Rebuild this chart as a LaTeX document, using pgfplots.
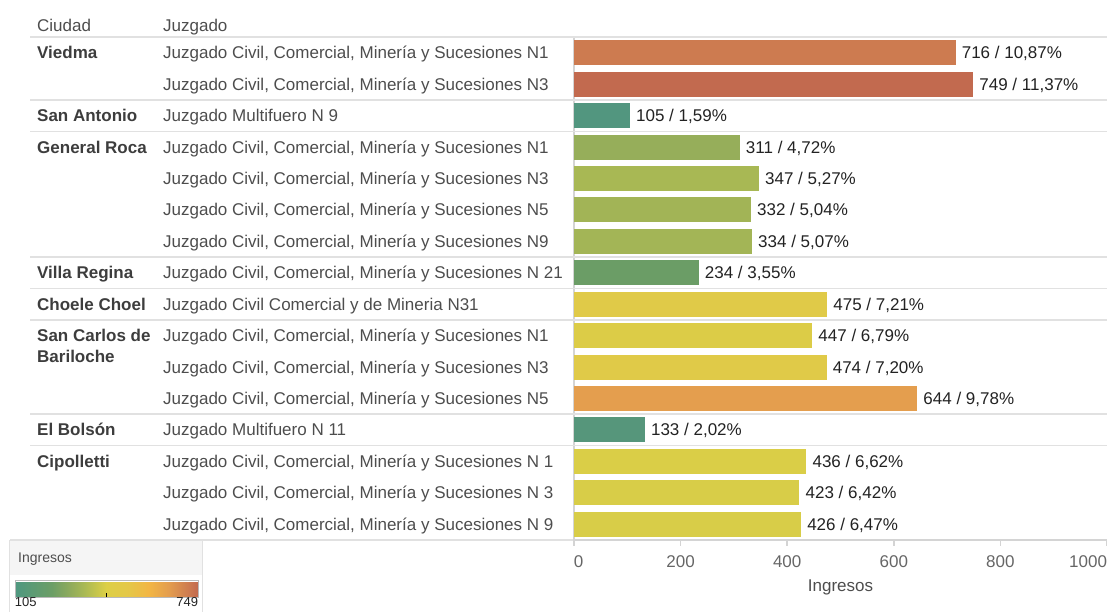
\documentclass[border=0pt]{standalone}
\usepackage{fontspec}
\setmainfont{Liberation Sans}
\usepackage{pgfplots}
\pgfplotsset{compat=1.18}

\definecolor{labcol}{HTML}{4D4D4D}
\definecolor{citycol}{HTML}{3D3D3D}
\definecolor{valcol}{HTML}{222222}
\definecolor{tickcol}{HTML}{666666}
\definecolor{axcol}{HTML}{D4D4D4}
\definecolor{sepcol}{HTML}{E1E1E1}
\definecolor{legbg}{HTML}{F5F5F5}
% bar colours
\definecolor{b716}{HTML}{CD7B50}
\definecolor{b749}{HTML}{C26A4F}
\definecolor{b105}{HTML}{52967F}
\definecolor{b311}{HTML}{96AE5A}
\definecolor{b347}{HTML}{A8B854}
\definecolor{b332}{HTML}{A2B456}
\definecolor{b334}{HTML}{A3B556}
\definecolor{b234}{HTML}{6B9D66}
\definecolor{b475}{HTML}{E0CA48}
\definecolor{b447}{HTML}{DCCC47}
\definecolor{b474}{HTML}{E0CA48}
\definecolor{b644}{HTML}{E49E4E}
\definecolor{b133}{HTML}{56967B}
\definecolor{b436}{HTML}{DACE47}
\definecolor{b423}{HTML}{D8CD48}
\definecolor{b426}{HTML}{D8CD48}

\tikzset{
  txtnode/.style={anchor=west, inner sep=0pt, text height=12pt, text depth=0pt},
  citynode/.style={txtnode, font=\bfseries, text=citycol},
}

% row (0 = bottom), value, colour, label
\newcommand{\jbar}[4]{%
  \addplot[fill=#3, draw=none, bar shift=0pt, nodes near coords={#4}] coordinates {(#2,#1)};}
\newcommand{\city}[2]{\node[citynode] at ([xshift=-537pt]axis cs:0,#1) {#2};}
\newcommand{\sep}[1]{\draw[sepcol, line width=1.5pt] ([xshift=-544pt]axis cs:0,#1) -- (axis cs:1000,#1);}

\begin{document}
\fontsize{17pt}{20pt}\selectfont
\begin{tikzpicture}
% colour legend box
\fill[legbg] (-564pt,-1pt) rectangle (-371pt,-35pt);
\draw[sepcol, line width=1pt] (-564pt,-1pt) rectangle (-371pt,-80pt);
\node[anchor=west, inner sep=0pt, text height=10pt, text depth=0pt, text=labcol,
  font=\fontsize{14pt}{16pt}\selectfont] at (-556pt,-18pt) {Ingresos};
\draw[sepcol, line width=1.5pt] (-564pt,0pt) -- (0pt,0pt);

\begin{axis}[
  at={(0pt,0pt)}, anchor=south west,
  scale only axis, width=533pt, height=503pt,
  xbar, bar width=25pt,
  xmin=0, xmax=1000, ymin=-0.5, ymax=15.5,
  clip=false,
  axis x line*=bottom, axis y line*=left,
  axis line style={draw=axcol, line width=1.5pt},
  tick align=outside, major tick length=6pt,
  xtick={0,200,...,1000},
  xticklabels={\makebox[0pt][l]{0},200,400,600,800,\makebox[0pt][r]{1000}},
  xtick style={draw=axcol, line width=1.5pt},
  xticklabel style={text=tickcol, yshift=-4pt},
  xlabel={Ingresos},
  xlabel style={at={(axis description cs:0.5,0)}, anchor=base, yshift=-52pt, text=labcol},
  ytick={0,...,15},
  ytick style={draw=none},
  yticklabels={
    {Juzgado Civil, Comercial, Minería y Sucesiones N 9},
    {Juzgado Civil, Comercial, Minería y Sucesiones N 3},
    {Juzgado Civil, Comercial, Minería y Sucesiones N 1},
    {Juzgado Multifuero N 11},
    {Juzgado Civil, Comercial, Minería y Sucesiones N5},
    {Juzgado Civil, Comercial, Minería y Sucesiones N3},
    {Juzgado Civil, Comercial, Minería y Sucesiones N1},
    {Juzgado Civil Comercial y de Mineria N31},
    {Juzgado Civil, Comercial, Minería y Sucesiones N 21},
    {Juzgado Civil, Comercial, Minería y Sucesiones N9},
    {Juzgado Civil, Comercial, Minería y Sucesiones N5},
    {Juzgado Civil, Comercial, Minería y Sucesiones N3},
    {Juzgado Civil, Comercial, Minería y Sucesiones N1},
    {Juzgado Multifuero N 9},
    {Juzgado Civil, Comercial, Minería y Sucesiones N3},
    {Juzgado Civil, Comercial, Minería y Sucesiones N1}},
  yticklabel style={txtnode, xshift=-405pt, text=labcol},
  every node near coord/.append style={txtnode, xshift=6pt, text=valcol},
  colormap={ingresos}{rgb255(105pt)=(78,152,128) rgb255(235pt)=(108,158,102)
    rgb255(311pt)=(150,174,90) rgb255(347pt)=(168,185,84) rgb255(427pt)=(221,207,70)
    rgb255(500pt)=(228,200,72) rgb255(575pt)=(242,182,68) rgb255(644pt)=(228,158,78)
    rgb255(716pt)=(205,123,80) rgb255(749pt)=(194,106,79)},
  point meta min=105, point meta max=749,
  colorbar horizontal,
  colorbar style={
    at={(-1.04878,-0.07952)}, anchor=north west,
    scale only axis, width=183pt, height=17pt,
    axis line style={draw=gray!55, line width=0.8pt},
    xtick={105,749},
    xticklabels={\makebox[0pt][l]{105},\makebox[0pt][r]{749}},
    major tick length=0pt, tick align=inside,
    xtick pos=left, xticklabel pos=left,
    extra x ticks={427}, extra x tick labels={},
    extra x tick style={major tick length=4pt, tick style={black, line width=1pt}},
    xticklabel style={font=\fontsize{13pt}{15pt}\selectfont, text=valcol,
      inner sep=1pt, yshift=1pt},
  },
]
\jbar{15}{716}{b716}{716 / 10,87\%}
\jbar{14}{749}{b749}{749 / 11,37\%}
\jbar{13}{105}{b105}{105 / 1,59\%}
\jbar{12}{311}{b311}{311 / 4,72\%}
\jbar{11}{347}{b347}{347 / 5,27\%}
\jbar{10}{332}{b332}{332 / 5,04\%}
\jbar{9}{334}{b334}{334 / 5,07\%}
\jbar{8}{234}{b234}{234 / 3,55\%}
\jbar{7}{475}{b475}{475 / 7,21\%}
\jbar{6}{447}{b447}{447 / 6,79\%}
\jbar{5}{474}{b474}{474 / 7,20\%}
\jbar{4}{644}{b644}{644 / 9,78\%}
\jbar{3}{133}{b133}{133 / 2,02\%}
\jbar{2}{436}{b436}{436 / 6,62\%}
\jbar{1}{423}{b423}{423 / 6,42\%}
\jbar{0}{426}{b426}{426 / 6,47\%}

% group separators
\sep{15.5}\sep{13.5}\sep{12.5}\sep{8.5}\sep{7.5}\sep{6.5}\sep{3.5}\sep{2.5}

% header
\node[txtnode, text=labcol] at ([xshift=-537pt]axis cs:0,15.86) {Ciudad};
\node[txtnode, text=labcol] at ([xshift=-411pt]axis cs:0,15.86) {Juzgado};

% cities
\city{15}{Viedma}
\city{13}{San Antonio}
\city{12}{General Roca}
\city{8}{Villa Regina}
\city{7}{Choele Choel}
\city{6}{San Carlos de}
\node[citynode] at ([xshift=-537pt,yshift=-21pt]axis cs:0,6) {Bariloche};
\city{3}{El Bolsón}
\city{2}{Cipolletti}
\end{axis}
\pgfresetboundingbox
\useasboundingbox (-574pt,-72pt) rectangle (533pt,540pt);
\end{tikzpicture}
\end{document}
